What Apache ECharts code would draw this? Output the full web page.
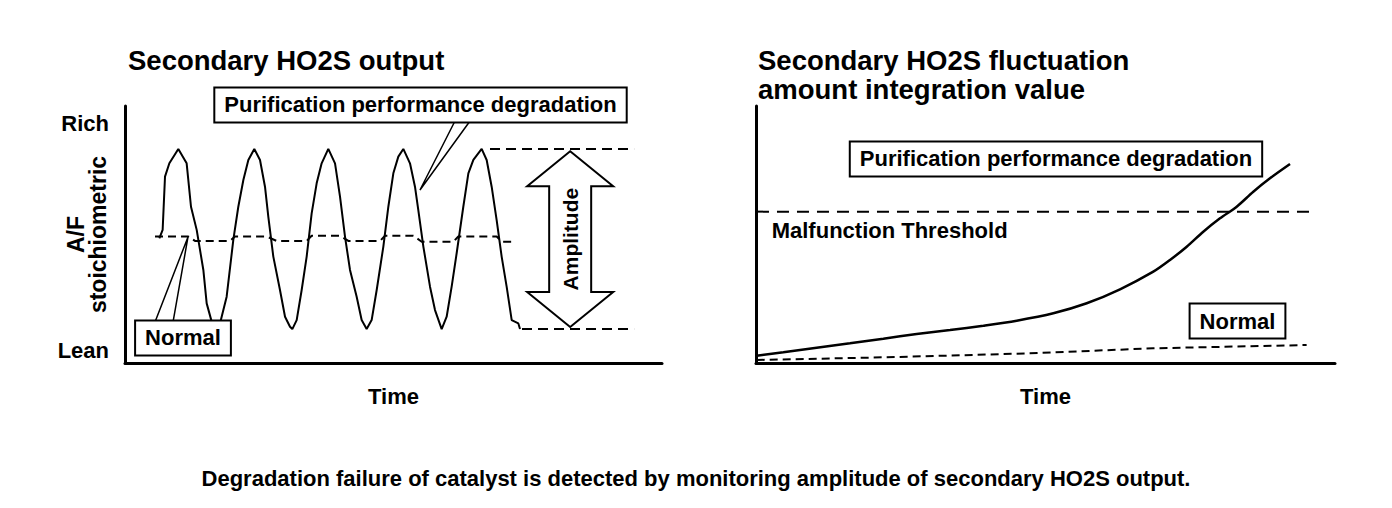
<!DOCTYPE html>
<html>
<head>
<meta charset="utf-8">
<script src="https://cdn.jsdelivr.net/npm/echarts@6/dist/echarts.min.js"></script>
<style>
html,body{margin:0;padding:0;background:#fff;}
#chart{width:1392px;height:508px;}
</style>
</head>
<body>
<div id="chart"></div>
<script>
// ---------- DATA (axis units: time 0-100, output 0-100) ----------
const leftTitle = 'Secondary HO2S output';
const rightTitle = 'Secondary HO2S fluctuation\namount integration value';
const caption = 'Degradation failure of catalyst is detected by monitoring amplitude of secondary HO2S output.';
const yTickValues = [5, 93];
const yTickLabels = ['Lean', 'Rich'];
const leftYName = 'A/F\nstoichiometric';
const xName = 'Time';

// Degraded catalyst: secondary HO2S output oscillation
const degradedWave = [
  [6.39,48.5],[7.01,51.8],[7.45,72.5],[8.26,77.7],[9.93,83.3],[11.48,77.7],[12.29,60.8],[13.35,51.8],
  [14.59,36.2],[15.21,23.2],[16.14,16.1],[17.07,13.2],[17.69,15.4],[18.93,25.8],[20.17,47.9],[21.10,60.8],
  [22.04,71.2],[22.97,79.0],[24.08,83.3],[25.14,79.0],[26.07,68.6],[26.69,56.9],[27.62,41.4],[28.86,28.4],
  [29.80,18.0],[30.73,14.1],[31.16,13.2],[31.97,16.7],[32.90,28.4],[33.83,41.4],[34.76,58.2],[35.69,69.9],
  [36.62,77.7],[37.86,83.3],[39.11,77.7],[40.04,64.7],[40.97,49.2],[41.90,36.2],[43.14,25.8],[44.07,16.7],
  [45.00,13.2],[45.93,16.7],[46.87,28.4],[48.11,45.3],[49.04,60.8],[49.97,73.8],[50.90,80.3],[51.83,83.3],
  [53.07,77.7],[54.00,68.6],[54.62,59.5],[55.56,45.3],[56.80,29.7],[57.73,20.6],[58.97,13.2],[59.90,18.0],
  [60.83,29.7],[61.76,42.7],[63.00,60.8],[63.94,73.8],[64.87,79.0],[66.42,83.3],[67.35,79.0],[68.28,68.6],
  [69.21,55.6],[70.14,41.4],[71.07,29.7],[72.01,16.7],[73.25,15.4],[73.56,13.2]
];
// Normal catalyst: nearly flat output
const normalWave = [
  [5.59,49.2],[11.79,49.2],[13.03,47.5],[19.55,47.5],[20.48,49.2],[26.38,49.2],[28.24,47.5],[33.83,47.5],
  [34.76,49.5],[40.04,49.5],[41.59,47.5],[47.49,47.5],[48.42,49.5],[53.69,49.5],[55.25,47.2],[61.14,47.2],
  [62.07,49.2],[69.21,49.2],[70.14,47.2],[72.62,47.2]
];
const amplitudeTop = [[67.97,83.3],[94.8,83.3]];
const amplitudeBottom = [[73.93,13.2],[94.8,13.2]];
const amplitudeArrow = [[82.9,82.4,14.0]]; // x, top, bottom

// Right: integration value
const degradedIntegral = [
  [0.12,2.84],[4.72,4.16],[10.48,5.95],[16.23,7.67],[21.99,9.46],[27.75,11.28],[33.51,12.84],[39.26,14.51],
  [45.03,16.46],[51.35,19.34],[57.12,23.23],[62.87,28.68],[68.62,35.53],[71.50,40.08],[74.39,45.25],
  [77.25,51.09],[80.14,56.30],[83.02,60.82],[85.89,66.65],[88.77,71.87],[92.23,77.43]
];
const normalIntegral = [[0.12,1.17],[24,2.3],[47.3,3.77],[68.6,5.72],[95.1,7.0]];
const threshold = [[0.17,58.9],[96.55,58.9]];

// Annotation texts
const labelDegradation = 'Purification performance degradation';
const labelNormal = 'Normal';
const labelThreshold = 'Malfunction Threshold';
const labelAmplitude = 'Amplitude';

// ---------- CHART ----------
const FONT = '"Liberation Sans", Arial, Helvetica, sans-serif';
const chart = echarts.init(document.getElementById('chart'), null, {renderer: 'svg'});

const axisLineStyle = {show: true, lineStyle: {color: '#000', width: 3}};
const black = '#000';

function boxLabel(extra) {
  return Object.assign({
    show: true, position: 'inside', formatter: '{b}', color: black,
    fontFamily: FONT, fontWeight: 'bold', fontSize: 22, lineHeight: 22,
    backgroundColor: '#fff', borderColor: black, borderWidth: 2, padding: [6, 9, 5, 9]
  }, extra || {});
}
const hiddenItem = {color: 'rgba(0,0,0,0)', opacity: 1};

const option = {
  animation: false,
  backgroundColor: '#fff',
  title: [
    {text: leftTitle, left: 123, top: 41, textStyle: {fontFamily: FONT, fontWeight: 'bold', fontSize: 27.5, color: black}},
    {text: rightTitle, left: 753, top: 41, textStyle: {fontFamily: FONT, fontWeight: 'bold', fontSize: 27.5, lineHeight: 29, color: black}},
    {text: caption, left: 'center', top: 462, textStyle: {fontFamily: FONT, fontWeight: 'bold', fontSize: 22, color: black}}
  ],
  grid: [
    {left: 125, top: 106, width: 537, height: 257},
    {left: 756, top: 106, width: 579, height: 257}
  ],
  xAxis: [
    {gridIndex: 0, type: 'value', min: 0, max: 100, axisLine: axisLineStyle, axisTick: {show: false},
     axisLabel: {show: false}, splitLine: {show: false},
     name: xName, nameLocation: 'middle', nameGap: 22, nameMoveOverlap: false,
     nameTextStyle: {fontFamily: FONT, fontWeight: 'bold', fontSize: 22, color: black}},
    {gridIndex: 1, type: 'value', min: 0, max: 100, axisLine: axisLineStyle, axisTick: {show: false},
     axisLabel: {show: false}, splitLine: {show: false},
     name: xName, nameLocation: 'middle', nameGap: 22, nameMoveOverlap: false,
     nameTextStyle: {fontFamily: FONT, fontWeight: 'bold', fontSize: 22, color: black}}
  ],
  yAxis: [
    {gridIndex: 0, type: 'value', min: 0, max: 100, axisLine: axisLineStyle, axisTick: {show: false},
     splitLine: {show: false},
     axisLabel: {show: true, customValues: yTickValues, margin: 16,
       formatter: function (v) { const i = yTickValues.indexOf(v); return i >= 0 ? yTickLabels[i] : ''; },
       fontFamily: FONT, fontWeight: 'bold', fontSize: 22, color: black},
     name: leftYName, nameLocation: 'middle', nameRotate: 90, nameGap: 16, nameMoveOverlap: false,
     nameTextStyle: {fontFamily: FONT, fontWeight: 'bold', fontSize: 23, lineHeight: 22, color: black}},
    {gridIndex: 1, type: 'value', min: 0, max: 100, axisLine: axisLineStyle, axisTick: {show: false},
     axisLabel: {show: false}, splitLine: {show: false}}
  ],
  series: [
    {type: 'line', xAxisIndex: 0, yAxisIndex: 0, data: degradedWave, symbol: 'none', z: 3,
     lineStyle: {color: black, width: 2}},
    {type: 'line', xAxisIndex: 0, yAxisIndex: 0, data: normalWave, symbol: 'none', z: 3,
     lineStyle: {color: black, width: 2, type: [8, 5]}},
    {type: 'line', xAxisIndex: 0, yAxisIndex: 0, data: amplitudeTop, symbol: 'none',
     lineStyle: {color: black, width: 2, type: [10, 6]}},
    {type: 'line', xAxisIndex: 0, yAxisIndex: 0, data: amplitudeBottom, symbol: 'none',
     lineStyle: {color: black, width: 2, type: [10, 6]}},
    // leader lines
    {type: 'line', xAxisIndex: 0, yAxisIndex: 0, symbol: 'none', clip: false, z: 4,
     data: [[61.45,94.16],[54.93,67.32],[64.25,94.16]], lineStyle: {color: black, width: 1.5}},
    {type: 'line', xAxisIndex: 0, yAxisIndex: 0, symbol: 'none', clip: false, z: 4,
     data: [[5.59,15.95],[11.73,49.03],[8.94,15.95]], lineStyle: {color: black, width: 1.5}},
    // amplitude arrow
    {type: 'custom', xAxisIndex: 0, yAxisIndex: 0, data: amplitudeArrow, z: 5,
     renderItem: function (params, api) {
       const top = api.coord([api.value(0), api.value(1)]);
       const bot = api.coord([api.value(0), api.value(2)]);
       const cx = top[0], hw = 43, sw = 21, hh = 35;
       const pts = [
         [cx, top[1]], [cx + hw, top[1] + hh], [cx + sw, top[1] + hh], [cx + sw, bot[1] - hh],
         [cx + hw, bot[1] - hh], [cx, bot[1]], [cx - hw, bot[1] - hh], [cx - sw, bot[1] - hh],
         [cx - sw, top[1] + hh], [cx - hw, top[1] + hh]
       ];
       return {
         type: 'group',
         children: [
           {type: 'polygon', shape: {points: pts}, style: {fill: '#fff', stroke: black, lineWidth: 2}},
           {type: 'text', x: cx, y: (top[1] + bot[1]) / 2, rotation: Math.PI / 2,
            style: {text: labelAmplitude, fill: black, font: 'bold 21px ' + FONT, align: 'center', verticalAlign: 'middle'}}
         ]
       };
     }},
    // left callout boxes
    {type: 'scatter', xAxisIndex: 0, yAxisIndex: 0, symbolSize: 1, clip: false, z: 6,
     itemStyle: hiddenItem,
     data: [{name: labelDegradation, value: [55.03, 100.4]}, {name: labelNormal, value: [10.8, 9.73]}],
     label: boxLabel()},
    // right: curves
    {type: 'line', xAxisIndex: 1, yAxisIndex: 1, data: degradedIntegral, symbol: 'none', smooth: 0.3,
     lineStyle: {color: black, width: 2.5}},
    {type: 'line', xAxisIndex: 1, yAxisIndex: 1, data: normalIntegral, symbol: 'none',
     lineStyle: {color: black, width: 2, type: [8, 5]}},
    {type: 'line', xAxisIndex: 1, yAxisIndex: 1, data: threshold, symbol: 'none',
     lineStyle: {color: black, width: 2, type: [12, 8]}},
    {type: 'scatter', xAxisIndex: 1, yAxisIndex: 1, symbolSize: 1, clip: false, z: 6,
     itemStyle: hiddenItem,
     data: [{name: labelDegradation, value: [51.81, 79.38]}, {name: labelNormal, value: [83.16, 16.34]}],
     label: boxLabel()},
    {type: 'scatter', xAxisIndex: 1, yAxisIndex: 1, symbolSize: 1, clip: false, z: 6,
     itemStyle: hiddenItem,
     data: [{name: labelThreshold, value: [2.71, 51.56]}],
     label: {show: true, position: 'inside', align: 'left', verticalAlign: 'middle', formatter: '{b}',
       color: black, fontFamily: FONT, fontWeight: 'bold', fontSize: 22}}
  ]
};
chart.setOption(option);
</script>
</body>
</html>
